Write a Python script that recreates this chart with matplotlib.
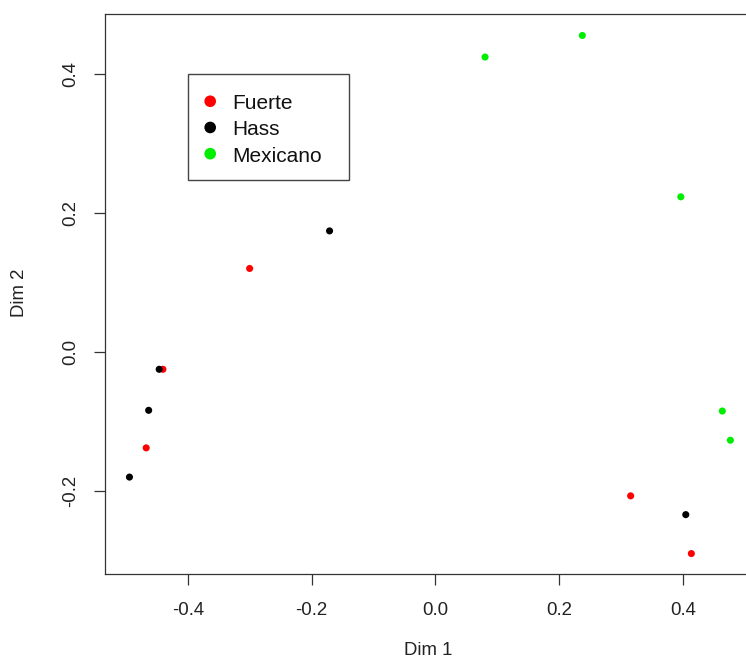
import matplotlib
matplotlib.use("Agg")
import matplotlib.pyplot as plt
from matplotlib.patches import Rectangle

plt.rcParams['font.family'] = ['Liberation Sans', 'DejaVu Sans']

# Data (MDS coordinates)
fuerte_x = [-0.300, -0.440, -0.467, 0.315, 0.413]
fuerte_y = [0.120, -0.025, -0.138, -0.207, -0.290]
hass_x = [-0.171, -0.446, -0.463, -0.494, 0.404]
hass_y = [0.174, -0.025, -0.084, -0.180, -0.234]
mex_x = [0.080, 0.237, 0.396, 0.463, 0.476]
mex_y = [0.424, 0.455, 0.223, -0.085, -0.127]

groups = ["Fuerte", "Hass", "Mexicano"]
colors = ["#ff0000", "#000000", "#00ee00"]
xticks = [-0.4, -0.2, 0.0, 0.2, 0.4]
yticks = [-0.2, 0.0, 0.2, 0.4]

W, H = 746, 661
fig = plt.figure(figsize=(W / 100, H / 100), dpi=100)
ax = fig.add_axes([105.3 / W, (H - 574.3) / H, 648 / W, 560.3 / H])

series = [(fuerte_x, fuerte_y), (hass_x, hass_y), (mex_x, mex_y)]
for (xs, ys), c in zip(series, colors):
    ax.scatter(xs, ys, s=26, color=c, edgecolors='none', zorder=3)

ax.set_xlim(-0.533, 0.513)
ax.set_ylim(-0.3198, 0.4859)

ax.set_xticks(xticks)
ax.set_xticklabels([f"{v:.1f}" for v in xticks])
ax.set_yticks(yticks)
ax.set_yticklabels([f"{v:.1f}" for v in yticks], rotation=90, va='center')
ax.tick_params(axis='both', direction='out', length=8, width=0.9,
               color='#333333', labelsize=13.4, labelcolor='#222222', pad=12)
ax.tick_params(axis='y', pad=11)
for sp in ax.spines.values():
    sp.set_color('#333333')
    sp.set_linewidth(0.9)

ax.set_xlabel("Dim 1", fontsize=13.4, color='#222222')
ax.set_ylabel("Dim 2", fontsize=13.4, color='#222222')

# Legend drawn in user coordinates like R's legend(-0.4, 0.4, ...)
lx, ly = -0.4, 0.4
px_x = 1 / 619.5
px_y = 1 / 695
ax.add_patch(Rectangle((lx, ly - 105.7 * px_y), 161.6 * px_x, 105.7 * px_y,
                       fill=False, edgecolor='#444444', linewidth=1.0, zorder=4))
for i, (g, c) in enumerate(zip(groups, colors)):
    yy = ly - (27.5 + 26.2 * i) * px_y
    ax.scatter([lx + 22.5 * px_x], [yy], s=70, color=c, edgecolors='none', zorder=5)
    ax.text(lx + 45.0 * px_x, yy - 2.5 * px_y, g, fontsize=15, va='center', ha='left',
            color='#111111', zorder=5)

ax.xaxis.set_label_coords((428 - 105.3) / 648, -(642 - 574.3) / 560.3)
ax.yaxis.set_label_coords(-(105.3 - 28) / 648, (574.3 - 293) / 560.3)

fig.savefig("out.png", dpi=100)
